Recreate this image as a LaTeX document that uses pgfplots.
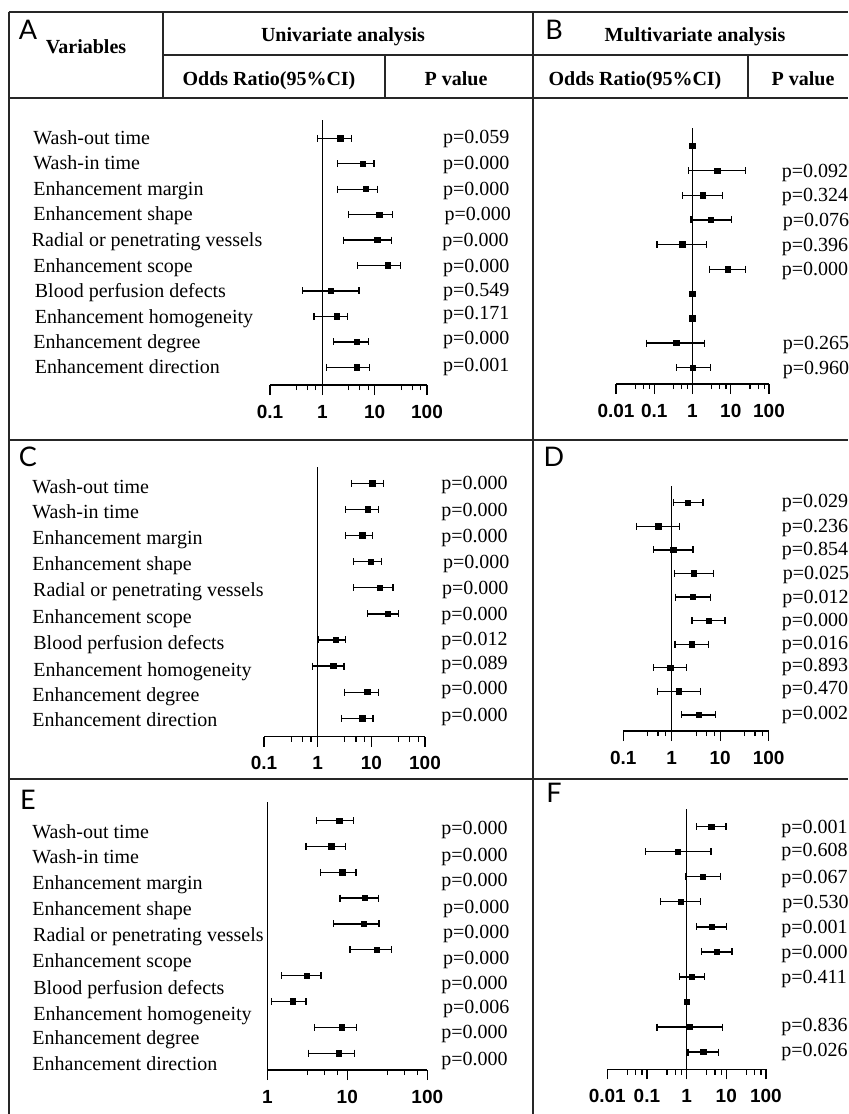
\documentclass[border=0pt]{standalone}
\usepackage{fontspec}
\setmainfont{Liberation Serif}
\setsansfont{Liberation Sans}
\newfontfamily\letterfont{Lato}
\usepackage{pgfplots}
\pgfplotsset{compat=1.18}

\tikzset{
  tbl/.style={line width=1pt, black!85},
  myref/.style={black, line width=0.6pt},
  myci/.style={black, line width=0.65pt, mark=|, mark size=1.75pt, mark options={line width=0.65pt, solid}},
  mypt/.style={black, mark=square*, mark size=1.35pt},
  mytl/.style={font=\sffamily\bfseries\fontsize{9.5}{11}\selectfont, anchor=center, yshift=-8.3pt},
}
\newcommand\rf{\fontsize{10}{12}\selectfont}
\newcommand\hd{\bfseries\fontsize{10}{12}\selectfont}
\newcommand\rl[3]{\node[anchor=base west, inner sep=0pt, font=\rf, yshift=-3.3pt] at (#1,#2) {#3};}
\newcommand\lt[3]{\node[anchor=center, inner sep=0pt, font=\letterfont\fontsize{13.5}{15}\selectfont] at (#1,#2) {#3};}

\begin{document}
\begin{tikzpicture}
\path[use as bounding box] (0pt,0pt) rectangle (424pt,-557pt);
\begin{scope}[x=0.5pt,y=-0.5pt]
% table rules
\draw[tbl] (8.5,12) -- (848,12);
\draw[tbl] (163,55) -- (848,55);
\draw[tbl] (8.5,98) -- (848,98);
\draw[tbl] (8.5,439.5) -- (848,439.5);
\draw[tbl] (8.5,778.5) -- (848,778.5);
\draw[tbl] (8.5,12) -- (8.5,1114);
\draw[tbl] (533,12) -- (533,1114);
\draw[tbl] (163,12) -- (163,98);
\draw[tbl] (385,55) -- (385,98);
\draw[tbl] (748,55) -- (748,98);
% header
\lt{28}{30}{A}
\lt{554}{30}{B}
\lt{28}{457}{C}
\lt{554}{457}{D}
\lt{28}{799.5}{E}
\lt{554}{792.5}{F}
\node[anchor=base, inner sep=0pt, font=\hd] at (86,53.5) {Variables};
\node[anchor=base, inner sep=0pt, font=\hd] at (343,41.7) {Univariate analysis};
\node[anchor=base, inner sep=0pt, font=\hd] at (695,41.7) {Multivariate analysis};
\node[anchor=base, inner sep=0pt, font=\hd] at (269,85) {Odds Ratio(95\%CI)};
\node[anchor=base, inner sep=0pt, font=\hd] at (456,85) {P value};
\node[anchor=base, inner sep=0pt, font=\hd] at (635,85) {Odds Ratio(95\%CI)};
\node[anchor=base, inner sep=0pt, font=\hd] at (803,85) {P value};
% panel A labels
\rl{33}{138.3}{Wash-out time}
\rl{33}{163.3}{Wash-in time}
\rl{33}{189}{Enhancement margin}
\rl{33}{214.3}{Enhancement shape}
\rl{31.4}{240}{Radial or penetrating vessels}
\rl{33}{265.7}{Enhancement scope}
\rl{34.5}{291}{Blood perfusion defects}
\rl{34.5}{316.7}{Enhancement homogeneity}
\rl{33}{341.7}{Enhancement degree}
\rl{34.5}{367.3}{Enhancement direction}
\rl{442.6}{136.7}{p=0.059}
\rl{442.6}{163.3}{p=0.000}
\rl{442.6}{189}{p=0.000}
\rl{444.3}{214.3}{p=0.000}
\rl{441.9}{240}{p=0.000}
\rl{442.6}{265.7}{p=0.000}
\rl{442.6}{290}{p=0.549}
\rl{442.6}{312.7}{p=0.171}
\rl{442.6}{338.3}{p=0.000}
\rl{442.6}{365}{p=0.001}
% panel B p
\rl{781.5}{171}{p=0.092}
\rl{781.5}{195.3}{p=0.324}
\rl{782.5}{220}{p=0.076}
\rl{781.5}{244.7}{p=0.396}
\rl{781.5}{269.3}{p=0.000}
\rl{782.5}{343.3}{p=0.265}
\rl{782.5}{367.7}{p=0.960}
% panel C labels
\rl{32}{486.7}{Wash-out time}
\rl{32}{511.7}{Wash-in time}
\rl{32}{538.3}{Enhancement margin}
\rl{32}{564}{Enhancement shape}
\rl{32.8}{590}{Radial or penetrating vessels}
\rl{32}{616.7}{Enhancement scope}
\rl{33}{643.3}{Blood perfusion defects}
\rl{33}{670}{Enhancement homogeneity}
\rl{32}{695}{Enhancement degree}
\rl{32}{720}{Enhancement direction}
\rl{441}{482.7}{p=0.000}
\rl{441}{510}{p=0.000}
\rl{441}{536}{p=0.000}
\rl{442.6}{561.7}{p=0.000}
\rl{441.6}{587.7}{p=0.000}
\rl{441}{614}{p=0.000}
\rl{441}{639.3}{p=0.012}
\rl{441}{663.3}{p=0.089}
\rl{441}{688.3}{p=0.000}
\rl{441}{715}{p=0.000}
% panel D p
\rl{781.5}{500.7}{p=0.029}
\rl{781.5}{526}{p=0.236}
\rl{781.5}{549.3}{p=0.854}
\rl{782.5}{573.3}{p=0.025}
\rl{782}{596.7}{p=0.012}
\rl{781.5}{620}{p=0.000}
\rl{781.5}{643.3}{p=0.016}
\rl{781.5}{665}{p=0.893}
\rl{781.5}{687.7}{p=0.470}
\rl{781.5}{712.7}{p=0.002}
% panel E labels
\rl{32}{831.7}{Wash-out time}
\rl{32}{856.7}{Wash-in time}
\rl{32}{883.3}{Enhancement margin}
\rl{32}{909}{Enhancement shape}
\rl{32.8}{935}{Radial or penetrating vessels}
\rl{32}{961}{Enhancement scope}
\rl{33}{988}{Blood perfusion defects}
\rl{33}{1014}{Enhancement homogeneity}
\rl{32}{1038}{Enhancement degree}
\rl{32}{1064}{Enhancement direction}
\rl{441}{827.7}{p=0.000}
\rl{441}{855}{p=0.000}
\rl{441}{880}{p=0.000}
\rl{442.6}{906.7}{p=0.000}
\rl{442.6}{931.7}{p=0.000}
\rl{442.6}{958.3}{p=0.000}
\rl{441}{982.7}{p=0.000}
\rl{442.6}{1006.7}{p=0.006}
\rl{441}{1031.7}{p=0.000}
\rl{441}{1059}{p=0.000}
% panel F p
\rl{781}{826.7}{p=0.001}
\rl{781}{850}{p=0.608}
\rl{781}{876.7}{p=0.067}
\rl{782}{901.7}{p=0.530}
\rl{781}{926.7}{p=0.001}
\rl{781}{952}{p=0.000}
\rl{781}{976.7}{p=0.411}
\rl{781}{1025}{p=0.836}
\rl{781}{1050}{p=0.026}
\end{scope}

% ---------- Panel A ----------
\begin{axis}[at={(135pt,-192.5pt)}, anchor=south west, scale only axis, clip=false,
  width=78.5pt, height=132.5pt, xmode=log,
  axis x line*=bottom, axis y line=none, ytick=\empty,
  x axis line style={-, line width=0.6pt, black},
  tick align=outside, major tick length=5pt, minor tick length=2.6pt,
  every tick/.style={line width=0.6pt, black},
  xticklabel style={mytl}, unbounded coords=jump,
  xmin=0.1, xmax=100, ymin=-10.696, ymax=-0.281,
  xtick={0.1,1,10,100}, xticklabels={0.1,1,10,100},
  minor xtick={0.32,0.52,0.75,3.2,5.2,7.5,32,52,75}]
\addplot[myref] coordinates {(1,-10.696) (1,-0.281)};
\addplot[myci] table[row sep=\\]{x y\\ 0.82 -1\\ 3.65 -1\\ nan nan\\ 1.95 -2\\ 9.7 -2\\ nan nan\\ 1.95 -3\\ 11.4 -3\\ nan nan\\ 3.2 -4\\ 21.6 -4\\ nan nan\\ 2.5 -5\\ 20.7 -5\\ nan nan\\ 4.75 -6\\ 31.4 -6\\ nan nan\\ 0.42 -7\\ 5.05 -7\\ nan nan\\ 0.69 -8\\ 3.0 -8\\ nan nan\\ 1.61 -9\\ 7.65 -9\\ nan nan\\ 1.19 -10\\ 8.0 -10\\};
\addplot[mypt, only marks] table[row sep=\\]{x y\\ 2.23 -1\\ 5.9 -2\\ 6.8 -3\\ 12.3 -4\\ 11.3 -5\\ 18.1 -6\\ 1.45 -7\\ 1.89 -8\\ 4.55 -9\\ 4.55 -10\\};
\end{axis}

% ---------- Panel B ----------
\begin{axis}[at={(308pt,-192pt)}, anchor=south west, scale only axis, clip=false,
  width=76.5pt, height=128pt, xmode=log,
  axis x line*=bottom, axis y line=none, ytick=\empty,
  x axis line style={-, line width=0.6pt, black},
  tick align=outside, major tick length=5pt, minor tick length=2.6pt,
  every tick/.style={line width=0.6pt, black},
  xticklabel style={mytl}, unbounded coords=jump,
  xmin=0.01, xmax=100, ymin=-10.66, ymax=-0.269,
  xtick={0.01,0.1,1,10,100}, xticklabels={0.01,0.1,1,10,100},
  minor xtick={0.032,0.052,0.075,0.32,0.52,0.75,3.2,5.2,7.5,32,52,75}]
\addplot[myref] coordinates {(1,-10.66) (1,-0.269)};
\addplot[myci] table[row sep=\\]{x y\\ 0.79 -2\\ 24 -2\\ nan nan\\ 0.55 -3\\ 6.2 -3\\ nan nan\\ 0.92 -4\\ 10.4 -4\\ nan nan\\ 0.117 -5\\ 2.37 -5\\ nan nan\\ 2.77 -6\\ 24 -6\\ nan nan\\ 0.064 -9\\ 2.1 -9\\ nan nan\\ 0.375 -10\\ 2.9 -10\\};
\addplot[mypt, only marks] table[row sep=\\]{x y\\ 1 -1\\ 4.5 -2\\ 1.86 -3\\ 3.07 -4\\ 0.54 -5\\ 8.3 -6\\ 1 -7\\ 1 -8\\ 0.375 -9\\ 1.04 -10\\};
\end{axis}

% ---------- Panel C ----------
\begin{axis}[at={(132pt,-368.35pt)}, anchor=south west, scale only axis, clip=false,
  width=80.5pt, height=135pt, xmode=log,
  axis x line*=bottom, axis y line=none, ytick=\empty,
  x axis line style={-, line width=0.6pt, black},
  tick align=outside, major tick length=5pt, minor tick length=2.6pt,
  every tick/.style={line width=0.6pt, black},
  xticklabel style={mytl}, unbounded coords=jump,
  xmin=0.1, xmax=100, ymin=-10.705, ymax=-0.364,
  xtick={0.1,1,10,100}, xticklabels={0.1,1,10,100},
  minor xtick={0.32,0.52,0.75,3.2,5.2,7.5,32,52,75}]
\addplot[myref] coordinates {(1,-10.705) (1,-0.364)};
\addplot[myci] table[row sep=\\]{x y\\ 4.27 -1\\ 16.9 -1\\ nan nan\\ 3.33 -2\\ 13.6 -2\\ nan nan\\ 3.33 -3\\ 10.5 -3\\ nan nan\\ 4.66 -4\\ 15.7 -4\\ nan nan\\ 4.7 -5\\ 25.4 -5\\ nan nan\\ 8.6 -6\\ 31.6 -6\\ nan nan\\ 1.04 -7\\ 3.3 -7\\ nan nan\\ 0.80 -8\\ 3.1 -8\\ nan nan\\ 3.2 -9\\ 13.6 -9\\ nan nan\\ 2.76 -10\\ 10.8 -10\\};
\addplot[mypt, only marks] table[row sep=\\]{x y\\ 10.5 -1\\ 8.6 -2\\ 6.8 -3\\ 9.9 -4\\ 14.6 -5\\ 20.1 -6\\ 2.16 -7\\ 1.95 -8\\ 8.4 -9\\ 6.8 -10\\};
\end{axis}

% ---------- Panel D ----------
\begin{axis}[at={(311.65pt,-365.5pt)}, anchor=south west, scale only axis, clip=false,
  width=72.7pt, height=122.5pt, xmode=log,
  axis x line*=bottom, axis y line=none, ytick=\empty,
  x axis line style={-, line width=0.6pt, black},
  tick align=outside, major tick length=5pt, minor tick length=2.6pt,
  every tick/.style={line width=0.6pt, black},
  xticklabel style={mytl}, unbounded coords=jump,
  xmin=0.1, xmax=100, ymin=-10.68, ymax=-0.292,
  xtick={0.1,1,10,100}, xticklabels={0.1,1,10,100},
  minor xtick={0.32,0.52,0.75,3.2,5.2,7.5,32,52,75}]
\addplot[myref] coordinates {(1,-10.68) (1,-0.292)};
\addplot[myci] table[row sep=\\]{x y\\ 1.07 -1\\ 4.43 -1\\ nan nan\\ 0.186 -2\\ 1.46 -2\\ nan nan\\ 0.425 -3\\ 2.76 -3\\ nan nan\\ 1.12 -4\\ 7.25 -4\\ nan nan\\ 1.21 -5\\ 6.2 -5\\ nan nan\\ 2.63 -6\\ 12.6 -6\\ nan nan\\ 1.17 -7\\ 5.7 -7\\ nan nan\\ 0.425 -8\\ 2.0 -8\\ nan nan\\ 0.51 -9\\ 3.9 -9\\ nan nan\\ 1.61 -10\\ 8.0 -10\\};
\addplot[mypt, only marks] table[row sep=\\]{x y\\ 2.17 -1\\ 0.53 -2\\ 1.08 -3\\ 2.89 -4\\ 2.76 -5\\ 5.8 -6\\ 2.59 -7\\ 0.94 -8\\ 1.42 -9\\ 3.6 -10\\};
\end{axis}

% ---------- Panel E ----------
\begin{axis}[at={(133.65pt,-535pt)}, anchor=south west, scale only axis, clip=false,
  width=80pt, height=134.2pt, xmode=log,
  axis x line*=bottom, axis y line=none, ytick=\empty,
  x axis line style={-, line width=0.6pt, black},
  tick align=outside, major tick length=5pt, minor tick length=2.6pt,
  every tick/.style={line width=0.6pt, black},
  xticklabel style={mytl}, unbounded coords=jump,
  xmin=1, xmax=100, ymin=-10.65, ymax=-0.265,
  xtick={1,10,100}, xticklabels={1,10,100},
  minor xtick={3.2,5.2,7.5,32,52,75}]
\addplot[myref] coordinates {(1,-10.65) (1,-0.265)};
\addplot[myci] table[row sep=\\]{x y\\ 4.08 -1\\ 11.9 -1\\ nan nan\\ 3.05 -2\\ 9.5 -2\\ nan nan\\ 4.6 -3\\ 12.8 -3\\ nan nan\\ 8.1 -4\\ 24.5 -4\\ nan nan\\ 6.7 -5\\ 25.0 -5\\ nan nan\\ 10.8 -6\\ 35.4 -6\\ nan nan\\ 1.5 -7\\ 4.7 -7\\ nan nan\\ 1.12 -8\\ 3.05 -8\\ nan nan\\ 3.9 -9\\ 13.1 -9\\ nan nan\\ 3.3 -10\\ 12.2 -10\\};
\addplot[mypt, only marks] table[row sep=\\]{x y\\ 8.0 -1\\ 6.3 -2\\ 8.7 -3\\ 16.6 -4\\ 16.0 -5\\ 23.4 -6\\ 3.1 -7\\ 2.09 -8\\ 8.5 -9\\ 7.8 -10\\};
\end{axis}

% ---------- Panel F ----------
\begin{axis}[at={(303.65pt,-534.65pt)}, anchor=south west, scale only axis, clip=false,
  width=79.3pt, height=130pt, xmode=log,
  axis x line*=bottom, axis y line=none, ytick=\empty,
  x axis line style={-, line width=0.6pt, black},
  tick align=outside, major tick length=5pt, minor tick length=2.6pt,
  every tick/.style={line width=0.6pt, black},
  xticklabel style={mytl}, unbounded coords=jump,
  xmin=0.01, xmax=100, ymin=-10.69, ymax=-0.305,
  xtick={0.01,0.1,1,10,100}, xticklabels={0.01,0.1,1,10,100},
  minor xtick={0.032,0.052,0.075,0.32,0.52,0.75,3.2,5.2,7.5,32,52,75}]
\addplot[myref] coordinates {(1,-10.69) (1,-0.305)};
\addplot[myci] table[row sep=\\]{x y\\ 1.79 -1\\ 9.8 -1\\ nan nan\\ 0.091 -2\\ 4.1 -2\\ nan nan\\ 0.925 -3\\ 7.3 -3\\ nan nan\\ 0.217 -4\\ 2.2 -4\\ nan nan\\ 1.79 -5\\ 10.2 -5\\ nan nan\\ 2.34 -6\\ 13.9 -6\\ nan nan\\ 0.65 -7\\ 2.84 -7\\ nan nan\\ 0.18 -9\\ 8.1 -9\\ nan nan\\ 1.08 -10\\ 6.4 -10\\};
\addplot[mypt, only marks] table[row sep=\\]{x y\\ 4.19 -1\\ 0.6 -2\\ 2.58 -3\\ 0.71 -4\\ 4.35 -5\\ 5.8 -6\\ 1.36 -7\\ 1 -8\\ 1.19 -9\\ 2.68 -10\\};
\end{axis}
\end{tikzpicture}
\end{document}
